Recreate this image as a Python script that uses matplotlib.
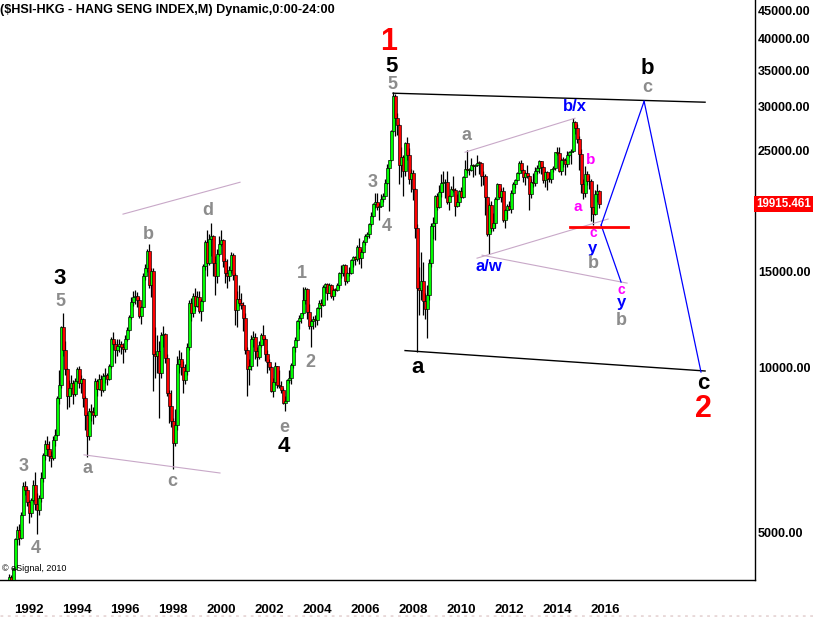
import numpy as np
import matplotlib
matplotlib.use("Agg")
import matplotlib.pyplot as plt
from matplotlib.ticker import NullLocator, FixedLocator
from matplotlib.lines import Line2D

# ---------------- data (monthly HSI, Sep 1991 .. May 2016) ----------------
start_year = 1991
start_month = 9
first_open = 3900

closes = [
    3955, 4150, 4060, 4297,                                                     # 1991 Sep-Dec
    4880, 5050, 4890, 5400, 6080, 5980, 5680, 5430, 5740, 6120, 5650, 5512,     # 1992
    5800, 6300, 6950, 7250, 7100, 6900, 6850, 7400, 7550, 8800, 9300, 11888,    # 1993
    10800, 9950, 8900, 9200, 9400, 8950, 9480, 9950, 9400, 9550, 8800, 8190,    # 1994
    7500, 8350, 8300, 8200, 9450, 9150, 9550, 9100, 9650, 9700, 9550, 10073,    # 1995
    11300, 11050, 10800, 10950, 11050, 10900, 10850, 11300, 11750, 12400, 13200, 13451,  # 1996
    13550, 13330, 12450, 12900, 14750, 15200, 16350, 14150, 15050, 10620, 10530, 10720,  # 1997
    9780, 11480, 11520, 10450, 9000, 8540, 8000, 7280, 7880, 10150, 10400, 10050,        # 1998
    9510, 9860, 10940, 13170, 12600, 13530, 12970, 13500, 12730, 13260, 15380, 16960,    # 1999
    15530, 17170, 17410, 15520, 14710, 16160, 16840, 17100, 15650, 14900, 14710, 15100,  # 2000
    16100, 14790, 12760, 13390, 13170, 13040, 12320, 10770, 9950, 10070, 11280, 11400,   # 2001
    10730, 10480, 11030, 11500, 11300, 10600, 10270, 10040, 9070, 9440, 10070, 9320,     # 2002
    9260, 9120, 8630, 8720, 9490, 9580, 10130, 10910, 11230, 12190, 12320, 12580,        # 2003
    13290, 13920, 12680, 11940, 12200, 12290, 12240, 12850, 13120, 13050, 14060, 14230,  # 2004
    13720, 14200, 13520, 13910, 13870, 14200, 14880, 14900, 15430, 14390, 14940, 14880,  # 2005
    15750, 15920, 15810, 16660, 15860, 16270, 16970, 17390, 17540, 18320, 18960, 19960,  # 2006
    20110, 19650, 19800, 20320, 20640, 21770, 23180, 23980, 27140, 31350, 28640, 27810,  # 2007
    23460, 24330, 22850, 25760, 24530, 22100, 22730, 21260, 18020, 13970, 13890, 14390,  # 2008
    13280, 12810, 13580, 15520, 18170, 18380, 20570, 19720, 20960, 21750, 21820, 21870,  # 2009
    20120, 20610, 21240, 21110, 19770, 20130, 21030, 20540, 22360, 23100, 23010, 23040,  # 2010
    23450, 23340, 23530, 23720, 23680, 22400, 22440, 20530, 17590, 19860, 17990, 18430,  # 2011
    20390, 21680, 20560, 21090, 18630, 19440, 19800, 19480, 20840, 21640, 22030, 22660,  # 2012
    23730, 23020, 22300, 22740, 22390, 20800, 21880, 21730, 22860, 23210, 23880, 23310,  # 2013
    22040, 22840, 22150, 22130, 23080, 23190, 24760, 24740, 22930, 24000, 23990, 23600,  # 2014
    24510, 24820, 24900, 28130, 27420, 26250, 24640, 21670, 20850, 22640, 22000, 21910,  # 2015
    19680, 19110, 20780, 21070, 19915.461,                                              # 2016
]

highs = [
    4030, 4200, 4180, 4320,
    4900, 5150, 5180, 5460, 6180, 6220, 6050, 5750, 5800, 6250, 6450, 5900,
    5850, 6450, 7000, 7400, 7500, 7350, 7050, 7500, 7750, 8900, 9900, 11950,
    12600, 11200, 10000, 9500, 9700, 9500, 9600, 10050, 10100, 9700, 9600, 8900,
    8300, 8450, 8600, 8500, 9600, 9550, 9750, 9700, 9800, 10000, 9800, 10150,
    11400, 11650, 11200, 11300, 11300, 11200, 11100, 11500, 11900, 12500, 13500, 13800,
    13900, 13750, 13500, 13000, 14900, 15500, 16500, 16820, 15250, 15200, 11900, 11500,
    11200, 11650, 11950, 11600, 10600, 9100, 9100, 8100, 8400, 10500, 10800, 10700,
    10300, 10150, 11100, 13300, 13400, 13700, 14000, 13800, 13800, 13350, 15500, 17100,
    17900, 17600, 18400, 17500, 16000, 16500, 17400, 17900, 17200, 15900, 15800, 15350,
    16300, 16200, 14900, 13800, 14200, 13700, 13200, 12600, 10900, 10400, 11500, 11700,
    11600, 10900, 11200, 11600, 11980, 11400, 10800, 10400, 10100, 9600, 10250, 10100,
    9900, 9450, 9200, 8900, 9550, 9900, 10200, 10950, 11400, 12250, 12500, 12600,
    14060, 14060, 14000, 13100, 12300, 12450, 12500, 12950, 13300, 13350, 14150, 14300,
    14300, 14300, 14250, 14000, 14000, 14300, 14950, 15450, 15500, 15500, 15000, 15300,
    15800, 16000, 16000, 16800, 17300, 16500, 17100, 17600, 17700, 18400, 19300, 20050,
    20900, 20900, 20000, 20800, 20900, 22100, 23600, 24000, 27250, 31960, 31600, 29200,
    27900, 25300, 24500, 25900, 26400, 25200, 23100, 23000, 21300, 18300, 15300, 16300,
    15600, 13700, 14200, 15800, 18400, 18900, 20700, 20900, 21600, 22600, 22900, 22100,
    22900, 20700, 21500, 22400, 21300, 20800, 21100, 21450, 22400, 24000, 24990, 23200,
    24200, 23600, 23600, 24470, 23900, 23700, 22900, 22600, 20600, 20000, 20200, 19200,
    20500, 21800, 21700, 21300, 21400, 19500, 19900, 20200, 21150, 21850, 22150, 22800,
    23900, 23950, 23100, 22800, 23500, 22500, 22100, 22700, 23300, 23500, 24000, 23900,
    23400, 22900, 22900, 22800, 23100, 23400, 24800, 25360, 25300, 24200, 24300, 24200,
    24860, 24900, 25100, 28590, 28200, 27900, 26500, 25100, 22100, 23400, 22900, 22500,
    22100, 19700, 21100, 21650, 21100,
]

lows = [
    3850, 3930, 3980, 3980,
    4280, 4750, 4760, 4880, 5380, 5870, 5600, 5220, 5350, 5700, 5500, 4980,
    5400, 5700, 6200, 6800, 6900, 6750, 6600, 6800, 7200, 7500, 8600, 9200,
    10500, 9700, 8400, 8500, 8900, 8600, 8900, 9400, 9200, 9000, 8500, 7700,
    6890, 7400, 8000, 7900, 8150, 8900, 9100, 8900, 9050, 9400, 9300, 9500,
    10000, 10800, 10200, 10500, 10700, 10600, 10200, 10700, 11200, 11700, 12300, 13000,
    13100, 12900, 12350, 12050, 12900, 14500, 15000, 14000, 13500, 9060, 9600, 9800,
    8120, 9600, 10900, 10200, 8900, 7950, 7800, 6545, 7200, 7700, 9800, 9700,
    9000, 9350, 9700, 10800, 12200, 12400, 12700, 12900, 12600, 12200, 13200, 15100,
    14700, 15400, 16000, 14700, 13600, 14300, 16000, 16700, 15300, 14300, 14000, 14400,
    14900, 14500, 12000, 11900, 13000, 12800, 11700, 10600, 8890, 9300, 9900, 10900,
    10400, 10100, 10400, 10900, 11000, 10300, 9800, 9900, 9050, 8850, 9300, 9200,
    9200, 9000, 8600, 8330, 8700, 9400, 9350, 10000, 10700, 11200, 11800, 12100,
    12500, 13100, 12300, 11800, 10920, 11800, 11900, 12000, 12800, 12400, 13000, 13700,
    13300, 13700, 13400, 13300, 13600, 13800, 14000, 14600, 14700, 14200, 14300, 14700,
    14850, 15300, 15400, 15700, 15500, 15200, 16200, 16800, 17200, 17300, 18200, 18900,
    19600, 19400, 18660, 19700, 20100, 20600, 21700, 19390, 23900, 27000, 26500, 26600,
    21700, 22300, 20570, 22400, 24000, 21700, 21000, 20300, 17300, 10680, 12500, 13300,
    12500, 12300, 11340, 13300, 15300, 17200, 17100, 19400, 19600, 20500, 21000, 20400,
    19900, 19400, 20500, 21000, 18970, 19700, 19800, 20400, 20400, 22300, 22700, 22500,
    22900, 22300, 22500, 23400, 22600, 21500, 21600, 19000, 17400, 16170, 17700, 17800,
    18000, 20300, 20400, 20100, 18500, 18050, 18700, 19400, 19200, 20800, 21300, 22000,
    22600, 22700, 21900, 21600, 22200, 19400, 20400, 21400, 21500, 22600, 22700, 22600,
    21800, 21400, 21100, 21900, 21800, 22800, 23000, 24500, 22800, 22500, 23300, 22500,
    23300, 24300, 23600, 24800, 26700, 25800, 23000, 20900, 20370, 20500, 21600, 21200,
    18530, 18280, 19000, 20100, 19600,
]

year_labels = list(range(1992, 2017, 2))
price_ticks = [5000, 10000, 15000, 25000, 30000, 35000, 40000, 45000]
last_price = closes[-1]

# Elliott-wave annotations: (text, decimal year, price, colour, size)
wave_labels = [
    ("1", 2007.58, 39400, "#FF0000", 22),
    ("5", 2007.67, 35600, "black", 16),
    ("5", 2007.71, 33000, "#8C8C8C", 13),
    ("3", 1993.875, 14600, "black", 16),
    ("5", 1993.9, 13250, "#8C8C8C", 13),
    ("3", 1992.375, 6620, "#8C8C8C", 13),
    ("4", 1992.875, 4690, "#8C8C8C", 13),
    ("a", 1995.0, 6560, "#8C8C8C", 13),
    ("b", 1997.54, 17560, "#8C8C8C", 13),
    ("d", 2000.04, 19410, "#8C8C8C", 13),
    ("c", 1998.54, 6200, "#8C8C8C", 13),
    ("e", 2003.21, 7800, "#8C8C8C", 13),
    ("4", 2003.21, 7180, "black", 16),
    ("1", 2003.96, 14900, "#8C8C8C", 13),
    ("2", 2004.29, 10250, "#8C8C8C", 13),
    ("3", 2006.92, 21840, "#8C8C8C", 13),
    ("4", 2007.5, 18150, "#8C8C8C", 13),
    ("a", 2008.79, 10000, "black", 16),
    ("a", 2010.79, 26600, "#8C8C8C", 13),
    ("b/x", 2015.33, 30050, "#0000FF", 12),
    ("a/w", 2011.75, 15350, "#0000FF", 12),
    ("b", 2016.0, 23970, "#FF00FF", 11),
    ("a", 2015.46, 19680, "#FF00FF", 11),
    ("c", 2016.08, 17650, "#FF00FF", 10),
    ("y", 2016.08, 16550, "#0000FF", 12),
    ("b", 2016.08, 15500, "#8C8C8C", 13),
    ("c", 2017.25, 13900, "#FF00FF", 10),
    ("y", 2017.25, 13160, "#0000FF", 12),
    ("b", 2017.25, 12200, "#8C8C8C", 13),
    ("b", 2018.33, 35240, "black", 16),
    ("c", 2018.33, 32570, "#8C8C8C", 13),
    ("c", 2020.67, 9350, "black", 16),
    ("2", 2020.67, 8415, "#FF0000", 22),
]

# trend / projection lines: (t0, v0, t1, v1, colour, width)
channel_lines = [
    (2007.75, 31760, 2020.75, 30580, "black", 1.0),
    (2008.25, 10760, 2020.75, 9875, "black", 1.0),
    (2010.75, 24780, 2015.33, 28590, "#C8A8C8", 0.8),
    (1996.5, 19100, 2001.375, 21840, "#C8A8C8", 0.8),
    (1994.875, 6940, 2000.54, 6430, "#C8A8C8", 0.8),
    (2011.25, 15870, 2016.71, 18710, "#C8A8C8", 0.8),
    (2011.46, 16070, 2017.5, 14290, "#C8A8C8", 0.8),
    (2016.42, 18240, 2018.21, 30700, "#0000FF", 0.9),
    (2018.21, 30700, 2020.58, 9833, "#0000FF", 0.9),
    (2016.42, 18240, 2017.25, 14350, "#0000FF", 0.9),
]
red_target = (2015.125, 2017.54, 18080)

# ---------------- figure ----------------
plt.rcParams["font.family"] = ["Liberation Sans", "DejaVu Sans"]
W, H = 813, 617
fig = plt.figure(figsize=(W / 100, H / 100), dpi=100)
fig.patch.set_facecolor("white")
ax = fig.add_axes([0, 37 / H, 755 / W, 580 / H])
ax.set_facecolor("white")
ax.set_yscale("log")
ax.set_ylim(4100, 47000)
ax.set_xlim(1991.375, 2022.83)

n = len(closes)
t = start_year + (start_month - 1) / 12 + np.arange(n) / 12.0
c = np.array(closes, dtype=float)
o = np.concatenate([[first_open], c[:-1]])
hi = np.array(highs, dtype=float)
lo = np.array(lows, dtype=float)

ax.vlines(t, lo, hi, color="black", linewidth=0.9, zorder=2)
up = c >= o
cols = np.where(up, "#00FF00", "#FF0000")
bottoms = np.minimum(o, c)
heights = np.maximum(np.abs(c - o), bottoms * 0.003)
ax.bar(t, heights, bottom=bottoms, width=0.125, color=cols,
       edgecolor="black", linewidth=0.45, zorder=3)

for (t0, v0, t1, v1, col, lw) in channel_lines:
    ax.plot([t0, t1], [v0, v1], color=col, linewidth=lw, zorder=4)
ax.plot([red_target[0], red_target[1]], [red_target[2]] * 2,
        color="#FF0000", linewidth=2.0, zorder=5)

for (s, tx, vy, col, sz) in wave_labels:
    ax.text(tx, vy, s, color=col, fontsize=sz, fontweight="bold",
            ha="center", va="center", zorder=6)

# axes styling
for sp in ("left", "top"):
    ax.spines[sp].set_visible(False)
for sp in ("right", "bottom"):
    ax.spines[sp].set_color("black")
    ax.spines[sp].set_linewidth(1.0)

ax.yaxis.tick_right()
ax.yaxis.set_major_locator(FixedLocator(price_ticks))
ax.yaxis.set_minor_locator(NullLocator())
ax.set_yticklabels([f"{p:.2f}" for p in price_ticks])
ax.tick_params(axis="y", length=0, pad=2, labelsize=9)
for lab in ax.get_yticklabels():
    lab.set_fontweight("bold")

ax.set_xticks([y - 0.03 for y in year_labels])
ax.set_xticklabels([str(y) for y in year_labels])
ax.xaxis.set_minor_locator(NullLocator())
ax.tick_params(axis="x", length=0, pad=17, labelsize=9.5)
for lab in ax.get_xticklabels():
    lab.set_ha("left")
    lab.set_fontweight("bold")

# last price flag
ax.annotate(f"{last_price:.3f}", xy=(1.0, last_price),
            xycoords=("axes fraction", "data"),
            xytext=(1, 0), textcoords="offset points",
            ha="left", va="center", fontsize=8.3, fontweight="bold",
            color="white", annotation_clip=False,
            bbox=dict(boxstyle="square,pad=0.18", fc="#FF0000", ec="none"))

fig.text(0.0, 1 - 10 / H, "($HSI-HKG - HANG SENG INDEX,M) Dynamic,0:00-24:00",
         fontsize=9.1, fontweight="bold", ha="left", va="center", color="black")
ax.text(0.003, 0.012, "\u00a9 eSignal, 2010", transform=ax.transAxes,
        fontsize=6.5, ha="left", va="bottom", color="black", zorder=7)

# faint strip at the very bottom of the window
fig.add_artist(Line2D([0, 1], [1.5 / H, 1.5 / H], transform=fig.transFigure,
                      color="#E8D8D8", linewidth=2, linestyle=":"))

fig.savefig("out.png", dpi=100, facecolor="white")
